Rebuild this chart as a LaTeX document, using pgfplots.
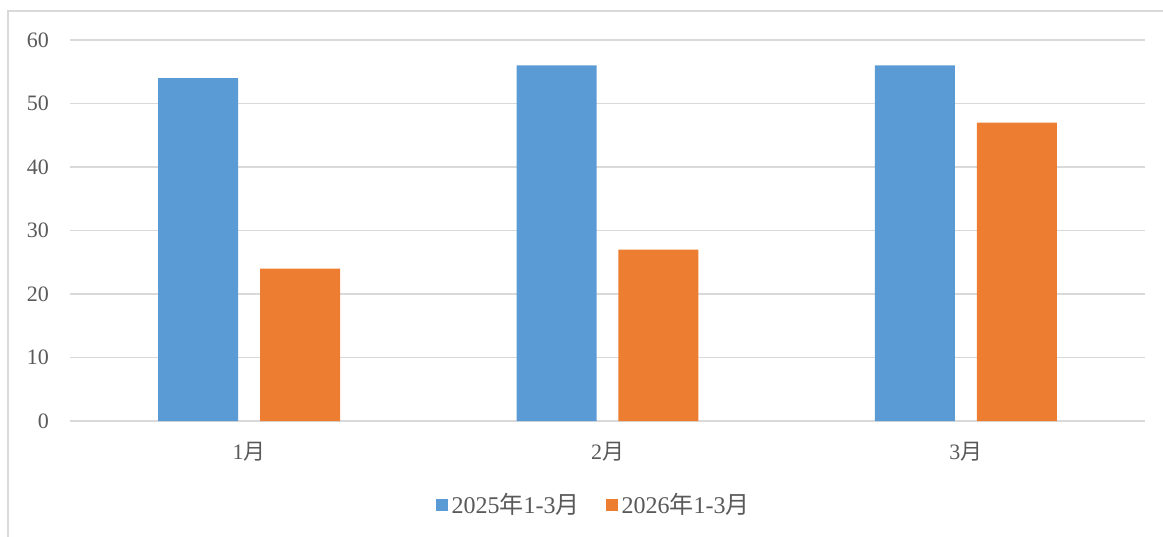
\documentclass[border=0pt]{standalone}
\usepackage{fontspec}
\setmainfont{Liberation Serif}
\newfontfamily\cjk{Noto Sans CJK SC}
\usepackage{pgfplots}
\pgfplotsset{compat=1.18}
\definecolor{sblue}{HTML}{5B9BD5}
\definecolor{sorange}{HTML}{ED7D31}
\definecolor{gridc}{HTML}{D9D9D9}
\definecolor{txt}{HTML}{595959}
\begin{document}
\begin{tikzpicture}
% 1 px of the reference = 0.5pt, top edge at y=0
\useasboundingbox (0pt,0pt) rectangle (581.5pt,-268pt);
\draw[gridc, line width=0.8pt] (4pt,-270pt) -- (4pt,-5.5pt) -- (585pt,-5.5pt);
\begin{axis}[
    at={(35pt,-210.5pt)}, anchor=south west,
    scale only axis,
    width=537.5pt, height=190.5pt,
    ybar, bar width=0.2233,
    xmin=-0.5, xmax=2.5,
    ymin=0, ymax=60,
    ytick={0,10,...,60},
    xtick={0,1,2},
    xticklabels={1{\cjk 月},2{\cjk 月},3{\cjk 月}},
    major tick length=0pt,
    axis x line*=bottom, axis y line*=left,
    x axis line style={gridc, line width=0.8pt, -},
    y axis line style={draw=none},
    ymajorgrids, grid style={gridc, line width=0.8pt},
    yticklabels={0,10,20,30,40,50,60},
    tick style={draw=none},
    every tick label/.append style={font=\fontsize{11}{13}\selectfont, text=txt},
    yticklabel style={xshift=-7pt},
    xticklabel style={yshift=-7pt},
    /pgf/number format/assume math mode=true,
    legend columns=2,
    legend style={at={(0.488,-0.22)}, anchor=center, draw=none,
        font=\fontsize{12}{14}\selectfont, text=txt,
        /tikz/every even column/.append style={column sep=11pt}},
    legend image code/.code={\fill[#1] (0pt,-3pt) rectangle (6pt,3pt);},
]
\addplot[fill=sblue, draw=none, bar shift=-0.1423] coordinates {(0,54) (1,56) (2,56)};
\addplot[fill=sorange, draw=none, bar shift=0.1423] coordinates {(0,24) (1,27) (2,47)};
\legend{2025{\cjk 年}1-3{\cjk 月}, 2026{\cjk 年}1-3{\cjk 月}}
\end{axis}
\end{tikzpicture}
\end{document}
